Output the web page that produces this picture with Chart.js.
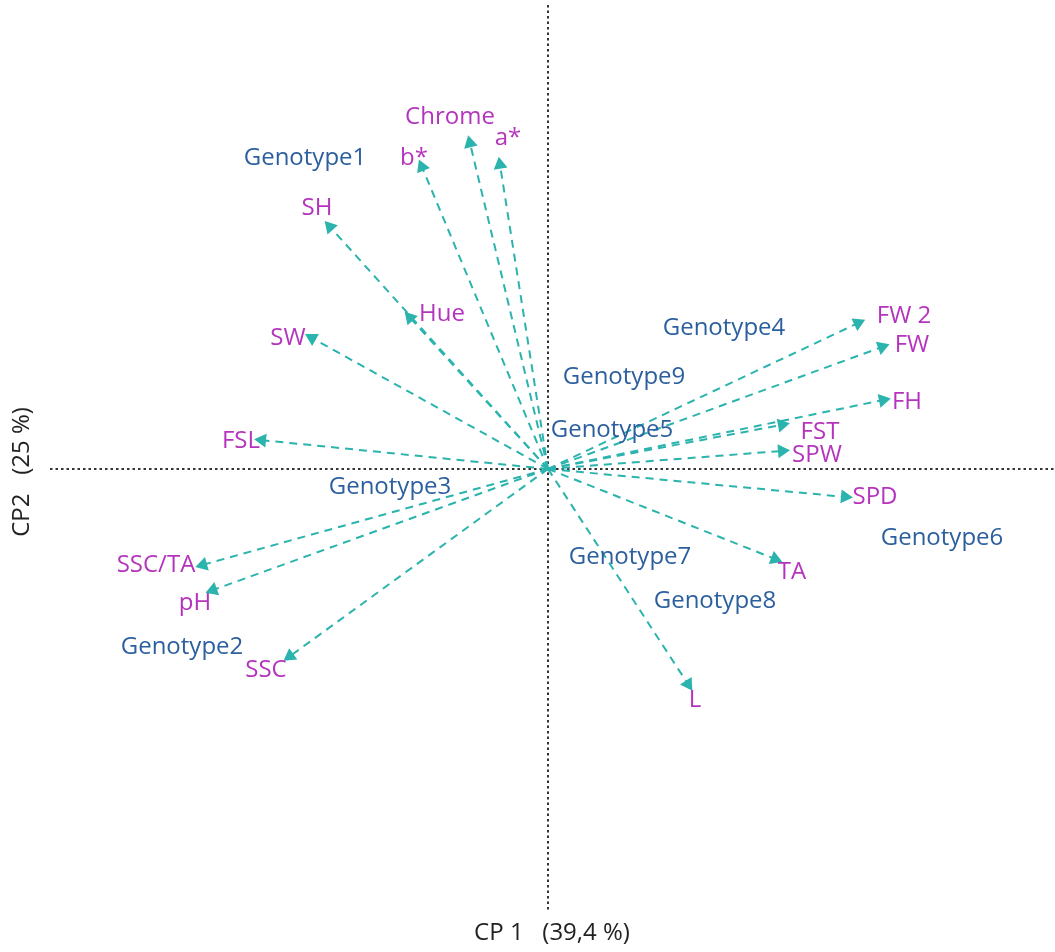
<!DOCTYPE html>
<html>
<head>
<meta charset="utf-8">
<script src="https://cdn.jsdelivr.net/npm/chart.js@4.4.1/dist/chart.umd.min.js"></script>
<style>
  html, body { margin: 0; padding: 0; background: #fff; overflow: hidden; }
  canvas { display: block; }
</style>
</head>
<body>
<canvas id="biplot" width="1055" height="952"></canvas>
<script>
// variable loadings (arrow tips)
const varNames = ['Chrome', 'a*', 'b*', 'SH', 'Hue', 'SW', 'FSL', 'SSC/TA', 'pH', 'SSC',
                  'L', 'TA', 'SPD', 'SPW', 'FST', 'FH', 'FW', 'FW 2'];
const varX = [-0.156, -0.096, -0.252, -0.436, -0.276, -0.472, -0.572, -0.690, -0.670, -0.516,
              0.280, 0.454, 0.594, 0.468, 0.468, 0.670, 0.668, 0.620];
const varY = [0.724, 0.676, 0.671, 0.538, 0.336, 0.291, 0.064, -0.213, -0.269, -0.416,
              -0.478, -0.200, -0.062, 0.040, 0.098, 0.153, 0.271, 0.324];
// label offsets from the arrow tip, px
const labelDx = [-20, 8, -8, -13, 32, -24, -21, -47, -18, -24, 7, 17, 30, 35, 38, 24, 30, 46];
const labelDy = [-26, -27, -9, -19, -4, 0, 1, 0, 13, 14, 16, 13, 0, 4, 7, 2, -2, -7];

// genotype scores
const genoNames = ['Genotype1', 'Genotype2', 'Genotype3', 'Genotype4', 'Genotype5',
                   'Genotype6', 'Genotype7', 'Genotype8', 'Genotype9'];
const genoX = [-0.486, -0.732, -0.316, 0.352, 0.128, 0.788, 0.164, 0.334, 0.152];
const genoY = [0.691, -0.396, -0.040, 0.313, 0.087, -0.153, -0.196, -0.293, 0.204];

const xTitle = 'CP 1   (39,4 %)';
const yTitle = 'CP2   (25 %)';

const arrowColor = '#2bb3ad';
const varColor = '#b534be';
const genoColor = '#2c5f9e';
const font = '"Open Sans", "Noto Sans", sans-serif';

const datasets = varNames.map(function (name, i) {
    return {
        label: name,
        data: [{ x: 0, y: 0 }, { x: varX[i], y: varY[i] }],
        showLine: true,
        borderColor: arrowColor,
        borderWidth: 2,
        borderDash: [8, 6],
        backgroundColor: arrowColor,
        pointBackgroundColor: arrowColor,
        pointBorderWidth: 0,
        pointStyle: 'triangle',
        pointRadius: function (ctx) { return ctx.dataIndex === 0 ? 0 : 8; },
        pointRotation: function (ctx) {
            const sx = ctx.chart.scales.x, sy = ctx.chart.scales.y;
            const dx = sx.getPixelForValue(varX[i]) - sx.getPixelForValue(0);
            const dy = sy.getPixelForValue(varY[i]) - sy.getPixelForValue(0);
            return Math.atan2(dx, -dy) * 180 / Math.PI;
        }
    };
});

const overlay = {
    id: 'overlay',
    beforeDatasetsDraw(chart) {
        const c = chart.ctx, sx = chart.scales.x, sy = chart.scales.y;
        const ox = sx.getPixelForValue(0), oy = sy.getPixelForValue(0);
        c.save();
        c.strokeStyle = '#333';
        c.lineWidth = 2;
        c.setLineDash([2.5, 3]);
        c.beginPath();
        c.moveTo(ox, 5); c.lineTo(ox, 910);
        c.moveTo(50, oy); c.lineTo(1055, oy);
        c.stroke();
        c.restore();
    },
    afterDatasetsDraw(chart) {
        const c = chart.ctx, sx = chart.scales.x, sy = chart.scales.y;
        c.save();
        c.textAlign = 'center';
        c.textBaseline = 'middle';
        c.font = '24px ' + font;
        c.fillStyle = varColor;
        varNames.forEach(function (n, i) {
            c.fillText(n, sx.getPixelForValue(varX[i]) + labelDx[i], sy.getPixelForValue(varY[i]) + labelDy[i]);
        });
        c.fillStyle = genoColor;
        genoNames.forEach(function (n, i) {
            c.fillText(n, sx.getPixelForValue(genoX[i]), sy.getPixelForValue(genoY[i]));
        });
        c.fillStyle = '#222';
        c.font = '24px ' + font;
        c.fillText(xTitle, sx.getPixelForValue(0) + 4, 933);
        c.translate(22, sy.getPixelForValue(0) + 3);
        c.rotate(-Math.PI / 2);
        c.fillText(yTitle, 0, 0);
        c.restore();
    }
};

new Chart(document.getElementById('biplot'), {
    type: 'scatter',
    data: { datasets: datasets },
    options: {
        responsive: false,
        animation: false,
        layout: { autoPadding: false, padding: { left: 50, top: 5, right: 0, bottom: 47 } },
        scales: {
            x: { display: false, min: -0.996, max: 1.014 },
            y: { display: false, min: -0.969, max: 1.031 }
        },
        plugins: { legend: { display: false }, tooltip: { enabled: false } }
    },
    plugins: [overlay]
});
</script>
</body>
</html>
